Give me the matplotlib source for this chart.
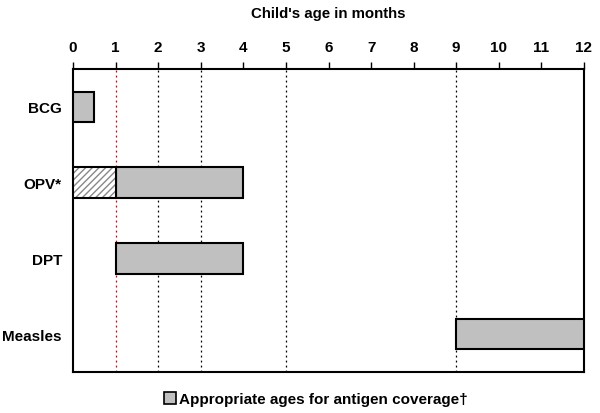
import matplotlib
matplotlib.use("Agg")
import matplotlib.pyplot as plt
from matplotlib.patches import Patch

plt.rcParams['font.family'] = ['Liberation Sans', 'DejaVu Sans']

vaccines = ["BCG", "OPV*", "DPT", "Measles"]
start = [0, 1, 1, 9]
end = [0.5, 4, 4, 12]
hatch_start = [None, 0, None, None]
hatch_end = [None, 1, None, None]
months = list(range(0, 13))
guide_red = [1]
guide_black = [2, 3, 5, 9]

fig = plt.figure(figsize=(6, 4.14), dpi=100)
ax = fig.add_axes([73/600, 1-373/414, (584-73)/600, (373-70)/414])

ypos = list(range(len(vaccines)))
for x in guide_red:
    ax.axvline(x, color='#cc0000', linestyle=(0, (1.5, 2.5)), linewidth=0.9, zorder=1)
for x in guide_black:
    ax.axvline(x, color='black', linestyle=(0, (1.5, 2.5)), linewidth=0.9, zorder=1)

for i, (s, e) in enumerate(zip(start, end)):
    ax.barh(ypos[i], e - s, left=s, height=0.4, color='#c0c0c0', edgecolor='black', linewidth=1.5, zorder=3)
    if hatch_start[i] is not None:
        ax.barh(ypos[i], hatch_end[i] - hatch_start[i], left=hatch_start[i], height=0.4,
                color='white', edgecolor='#888888', hatch='/////', linewidth=0, zorder=3)
        ax.barh(ypos[i], hatch_end[i] - hatch_start[i], left=hatch_start[i], height=0.4,
                fill=False, edgecolor='black', linewidth=1.5, zorder=4)

ax.set_xlim(0, 12)
ax.set_ylim(3.5, -0.5)
ax.set_xticks(months)
ax.set_xticklabels([str(m) for m in months], fontweight='bold', fontsize=11)
ax.xaxis.tick_top()
ax.xaxis.set_label_position('top')
ax.set_xlabel("Child's age in months", fontweight='bold', fontsize=10.8, labelpad=17)
ax.tick_params(axis='x', length=5, width=1, pad=5.5)
ax.set_yticks(ypos)
ax.set_yticklabels(vaccines, fontweight='bold', fontsize=11)
ax.tick_params(axis='y', length=0, pad=8)
for sp in ax.spines.values():
    sp.set_linewidth(1.5)

handle = Patch(facecolor='#c0c0c0', edgecolor='black', linewidth=1.2)
fig.legend([handle], ["Appropriate ages for antigen coverage\u2020"], loc='center',
           bbox_to_anchor=(316/600, 1-400/414), frameon=False,
           prop={'weight': 'bold', 'size': 11}, handlelength=0.8, handleheight=0.8,
           handletextpad=0.2)

fig.savefig("out.png", dpi=100)
